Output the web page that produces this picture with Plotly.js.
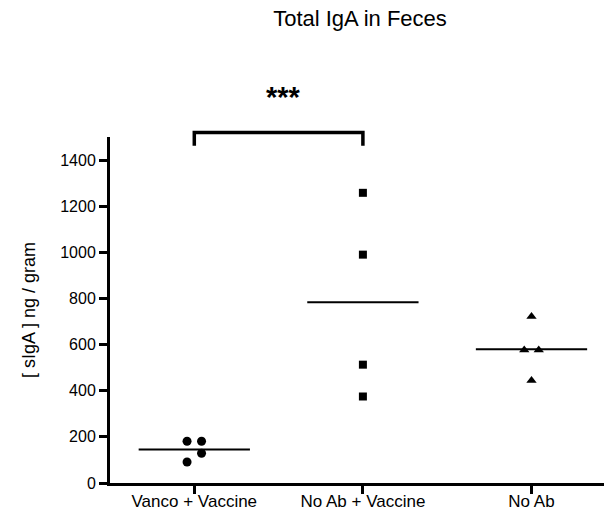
<!DOCTYPE html>
<html>
<head>
<meta charset="utf-8">
<script src="https://cdn.plot.ly/plotly-3.0.1.min.js"></script>
<style>html,body{margin:0;padding:0;background:#fff;}#chart{width:605px;height:511px;}</style>
</head>
<body>
<div id="chart"></div>
<script>
// ---- data ----
const categories = ["Vanco + Vaccine", "No Ab + Vaccine", "No Ab"];
const vancoVaccine = [181, 181, 129, 91];
const noAbVaccine = [1258, 990, 513, 375];
const noAb = [722, 577, 577, 444];
const yTickVals = [0, 200, 400, 600, 800, 1000, 1200, 1400];
const significance = "***";

// ---- layout helpers (not data) ----
const groups = [vancoVaccine, noAbVaccine, noAb];
const symbols = ["circle", "square", "triangle-up"];
const sizes = [9, 8, 9];
const spread = [[-1, 1, 1, -1], [0, 0, 0, 0], [0, -1, 1, 0]];
const jitterStep = 0.043;
const halfLine = 0.33;
const yMax = 1500;
const font = "Liberation Sans, Arial, sans-serif";

const mean = a => a.reduce((s, v) => s + v, 0) / a.length;

const traces = [];
groups.forEach((vals, i) => {
  traces.push({
    type: "scatter", mode: "markers",
    x: vals.map((v, k) => i + spread[i][k] * jitterStep),
    y: vals,
    marker: {symbol: symbols[i], size: sizes[i], color: "#000"},
    hoverinfo: "y", showlegend: false
  });
  const m = mean(vals);
  traces.push({
    type: "scatter", mode: "lines",
    x: [i - halfLine, i + halfLine], y: [m, m],
    line: {color: "#000", width: 2},
    hoverinfo: "skip", showlegend: false
  });
});

const py = v => v / yMax; // data value -> paper y
const bracketTop = 1520, bracketFoot = 1462;

const layout = {
  width: 605, height: 511,
  margin: {l: 110, r: 1, t: 137, b: 28},
  paper_bgcolor: "#fff", plot_bgcolor: "#fff",
  font: {family: font, color: "#000"},
  title: {
    text: "Total IgA in Feces",
    font: {size: 22, family: font, color: "#000"},
    x: 360 / 605, xanchor: "center", xref: "container",
    y: 1 - 18 / 511, yanchor: "middle", yref: "container"
  },
  xaxis: {
    range: [-0.5, 2.43],
    tickmode: "array", tickvals: [0, 1, 2], ticktext: categories,
    showline: true, linecolor: "#000", linewidth: 3,
    ticks: "outside", ticklen: 8, tickwidth: 3, tickcolor: "#000",
    ticklabelstandoff: -7,
    showgrid: false, zeroline: false,
    tickfont: {size: 17, family: font, color: "#000"}
  },
  yaxis: {
    range: [0, yMax],
    tickmode: "array", tickvals: yTickVals,
    showline: true, linecolor: "#000", linewidth: 3,
    ticks: "outside", ticklen: 8, tickwidth: 3, tickcolor: "#000",
    showgrid: false, zeroline: false,
    tickfont: {size: 16, family: font, color: "#000"},
    title: {text: "[ sIgA ] ng / gram", font: {size: 18, family: font, color: "#000"}, standoff: 20}
  },
  shapes: [
    {type: "path", xref: "x", yref: "paper",
     path: `M0,${py(bracketFoot)} L0,${py(bracketTop)} L1,${py(bracketTop)} L1,${py(bracketFoot)}`,
     line: {color: "#000", width: 3.5}}
  ],
  annotations: [
    {x: 0.53, xref: "x", y: py(1675), yref: "paper", text: "<b>" + significance + "</b>",
     showarrow: false, font: {size: 29, family: font, color: "#000"}, yanchor: "middle"}
  ]
};

Plotly.newPlot("chart", traces, layout, {displayModeBar: false, staticPlot: true});
</script>
</body>
</html>
